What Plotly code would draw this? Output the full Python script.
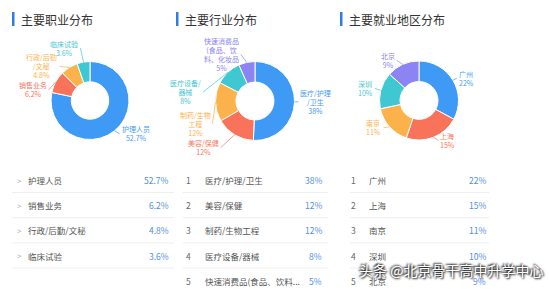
import math
import plotly.graph_objects as go

W, H = 549, 289

# ---- data ----
titles = ["主要职业分布", "主要行业分布", "主要就业地区分布"]

job_labels = ["护理人员", "销售业务", "行政/后勤/文秘", "临床试验"]
job_values = [52.7, 6.2, 4.8, 3.6]
job_pie_text = ["护理人员<br>52.7%", "销售业务<br>6.2%", "行政/后勤<br>/文秘<br>4.8%", "临床试验<br>3.6%"]

ind_labels = ["医疗/护理/卫生", "美容/保健", "制药/生物工程", "医疗设备/器械", "快速消费品(食品、饮料..."]
ind_values = [38, 12, 12, 8, 5]
ind_pie_text = ["医疗/护理<br>/卫生<br>38%", "美容/保健<br>12%", "制药/生物<br>工程<br>12%",
                "医疗设备/<br>器械<br>8%", "快速消费品<br>(食品、饮<br>料、化妆品<br>5%"]

reg_labels = ["广州", "上海", "南京", "深圳", "北京"]
reg_values = [22, 15, 11, 10, 9]
reg_pie_text = ["广州<br>22%", "上海<br>15%", "南京<br>11%", "深圳<br>10%", "北京<br>9%"]

colors = ["#3f9af5", "#f9735b", "#fbb24b", "#3fc7d2", "#8c84f2"]

FONT = "Noto Sans CJK SC"

# label placement nudges (pixels from slice edge to label), layout only
job_nudge = [(5, 3), (-7, 8), (-10, -1), (-3, -14)]
ind_nudge = [(4, 0), (-14, 13), (-3, 22), (-25, 20), (-6, -8)]
reg_nudge = [(4, -2), (5, 3), (-6, 1), (-6, -2), (-6, -4)]


def px_x(x):
    return x / W


def px_y(y):
    return 1 - y / H


fig = go.Figure()
annotations = []
shapes = []

pies = [
    (job_labels, job_values, job_pie_text, job_nudge, (90, 100.5, 39)),
    (ind_labels, ind_values, ind_pie_text, ind_nudge, (255, 101, 39.5)),
    (reg_labels, reg_values, reg_pie_text, reg_nudge, (419, 100.5, 39.5)),
]
for labels, values, texts, nudges, (cx, cy, r) in pies:
    n = len(values)
    fig.add_trace(go.Pie(
        labels=labels, values=values,
        textinfo="none",
        hole=0.48, sort=False, direction="clockwise", rotation=0,
        marker=dict(colors=colors[:n], line=dict(color="white", width=1)),
        domain=dict(x=[px_x(cx - r), px_x(cx + r)], y=[px_y(cy + r), px_y(cy - r)]),
        showlegend=False, hoverinfo="label+value",
    ))
    total = sum(values)
    cum = 0.0
    for v, t, (dx, dy), c in zip(values, texts, nudges, colors):
        mid = (cum + v / 2) / total * 2 * math.pi
        cum += v
        tipx = cx + r * math.sin(mid)
        tipy = cy - r * math.cos(mid)
        right_side = math.sin(mid) > 0.05
        annotations.append(dict(
            text=t, xref="paper", yref="paper", x=px_x(tipx), y=px_y(tipy),
            ax=dx, ay=dy, showarrow=True, arrowhead=0, arrowwidth=0.7, arrowcolor=c,
            standoff=0, startstandoff=0,
            xanchor="left" if right_side else "right", yanchor="middle",
            align="center", font=dict(size=7, color=c, family=FONT),
        ))

# titles with blue bar
title_pos = [(12, 19), (176, 183), (340, 347)]
for t, (bx, tx) in zip(titles, title_pos):
    shapes.append(dict(type="rect", xref="paper", yref="paper",
                       x0=px_x(bx), x1=px_x(bx + 2.5), y0=px_y(26), y1=px_y(12),
                       fillcolor="#2f7de1", line=dict(width=0)))
    annotations.append(dict(text=t, xref="paper", yref="paper", x=px_x(tx), y=px_y(19),
                            xanchor="left", yanchor="middle", showarrow=False,
                            font=dict(size=12, color="#333333", family=FONT)))

row_y0, row_pitch = 180, 25.2
label_col = "#555555"
val_col = "#4f8fe0"

# table 1
for i, (lab, v) in enumerate(zip(job_labels, job_values)):
    y = row_y0 + i * row_pitch
    annotations.append(dict(text=">", xref="paper", yref="paper", x=px_x(15), y=px_y(y),
                            xanchor="left", yanchor="middle", showarrow=False,
                            font=dict(size=8, color="#aaaaaa", family=FONT)))
    annotations.append(dict(text=lab, xref="paper", yref="paper", x=px_x(26), y=px_y(y),
                            xanchor="left", yanchor="middle", showarrow=False,
                            font=dict(size=8.5, color=label_col, family=FONT)))
    annotations.append(dict(text=f"{v}%", xref="paper", yref="paper", x=px_x(171), y=px_y(y),
                            xanchor="right", yanchor="middle", showarrow=False,
                            font=dict(size=8.5, color=val_col, family=FONT)))
    shapes.append(dict(type="line", xref="paper", yref="paper", x0=px_x(12), x1=px_x(174),
                       y0=px_y(y + 12.5), y1=px_y(y + 12.5), line=dict(color="#eeeeee", width=1)))

# tables 2 and 3
for labels, values, (nx, lx, vx, l0, l1) in [
    (ind_labels, ind_values, (188, 203, 324, 183, 328)),
    (reg_labels, reg_values, (353, 367, 488, 350, 489)),
]:
    for i, (lab, v) in enumerate(zip(labels, values)):
        y = row_y0 + i * row_pitch
        annotations.append(dict(text=str(i + 1), xref="paper", yref="paper", x=px_x(nx), y=px_y(y),
                                xanchor="center", yanchor="middle", showarrow=False,
                                font=dict(size=8.5, color="#666666", family=FONT)))
        annotations.append(dict(text=lab, xref="paper", yref="paper", x=px_x(lx), y=px_y(y),
                                xanchor="left", yanchor="middle", showarrow=False,
                                font=dict(size=8.5, color=label_col, family=FONT)))
        annotations.append(dict(text=f"{v}%", xref="paper", yref="paper", x=px_x(vx), y=px_y(y),
                                xanchor="right", yanchor="middle", showarrow=False,
                                font=dict(size=8.5, color=val_col, family=FONT)))
        if i < len(values) - 1:
            shapes.append(dict(type="line", xref="paper", yref="paper", x0=px_x(l0), x1=px_x(l1),
                               y0=px_y(y + 12.5), y1=px_y(y + 12.5), line=dict(color="#eeeeee", width=1)))

# watermark
annotations.append(dict(text="头条 @北京骨干高中升学中心", xref="paper", yref="paper",
                        x=px_x(357), y=px_y(270), xanchor="left", yanchor="middle", showarrow=False,
                        font=dict(size=14, color="white", family=FONT,
                                  shadow="1px 1px 2px #000, -1px -1px 2px #000")))

fig.update_layout(
    width=W, height=H, margin=dict(l=0, r=0, t=0, b=0),
    paper_bgcolor="white", plot_bgcolor="white",
    annotations=annotations, shapes=shapes,
    font=dict(family=FONT),
)

fig.write_html("out.html")
